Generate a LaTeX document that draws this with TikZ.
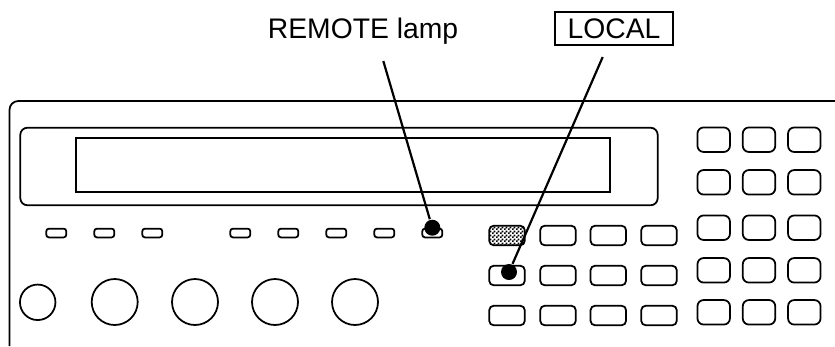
\documentclass[tikz,border=0pt]{standalone}
\usepackage{fontspec}
\setmainfont{Liberation Sans}
\usetikzlibrary{patterns}
\pgfdeclarepatternformonly{finecheck}{\pgfqpoint{0pt}{0pt}}{\pgfqpoint{2.3pt}{2.3pt}}{\pgfqpoint{2.3pt}{2.3pt}}{
    \pgfpathrectangle{\pgfqpoint{0pt}{0pt}}{\pgfqpoint{1.15pt}{1.15pt}}
    \pgfpathrectangle{\pgfqpoint{1.15pt}{1.15pt}}{\pgfqpoint{1.15pt}{1.15pt}}
    \pgfusepath{fill}}

\begin{document}
\begin{tikzpicture}[x=0.02cm, y=-0.02cm, line width=1pt,
            lamp/.style = {draw, rectangle, rounded corners=1.5pt,
                        minimum width=0.4cm, minimum height=0.175cm, inner sep=0pt},
            knob/.style = {draw, circle, minimum size=0.92cm, inner sep=0pt},
            softkey/.style = {draw, rectangle, rounded corners=2.5pt,
                        minimum width=0.71cm, minimum height=0.39cm, inner sep=0pt},
            padkey/.style = {draw, rectangle, rounded corners=3.5pt,
                        minimum width=0.65cm, minimum height=0.49cm, inner sep=0pt},
            spot/.style = {circle, fill=black, minimum size=0.32cm, inner sep=0pt},
            caption/.style = {font=\fontsize{16.1}{18}\selectfont, inner sep=0pt}]
            \useasboundingbox (0,0) rectangle (835,346);
            % Front panel
            \draw[rounded corners=5pt] (9.5,346) -- (9.5,101) -- (835,101);
            % Display
            \node[draw, rectangle, rounded corners=4pt, minimum width=12.75cm, minimum height=1.55cm,
                  inner sep=0pt] (bezel) at (339,166.5) {};
            \node[draw, rectangle, minimum width=10.68cm, minimum height=1.07cm,
                  inner sep=0pt] (screen) at (343,165) {};
            % Lamps
            \foreach \x in {56,104,152,240,288,336,384,432}
                \node[lamp] (lamp-\x) at (\x.3,233) {};
            % Knobs
            \node[knob, minimum size=0.71cm] (power) at (37.7,302.3) {};
            \foreach \x in {114.7,195,275,355}
                \node[knob] at (\x,302) {};
            % Soft keys
            \foreach \y in {235.5,275.5,315.5}
                \foreach \x in {558,608.3,659}
                    \node[softkey] at (\x,\y) {};
            \node[softkey, pattern=finecheck] (shift) at (507,235.5) {};
            \node[softkey] (local) at (507,275.5) {};
            \node[softkey] (extra) at (507,315.5) {};
            % Numeric pad
            \foreach \y in {139.7,182.3,227.7,270.3,312.3}
                \foreach \x in {713.7,759,804.3}
                    \node[padkey] at (\x,\y) {};
            % Labels
            \node[caption, anchor=base] (remotetext) at (363,38) {REMOTE lamp};
            \node[caption, draw, minimum width=2.37cm, minimum height=0.66cm] (localtext) at (614,28.5) {LOCAL};
            % Leaders
            \node[spot] (remotespot) at (432.3,227.7) {};
            \node[spot] (localspot) at (509,272) {};
            \coordinate (remotefoot) at (383.3,61);
            \coordinate (localfoot) at (602.7,57);
            \draw[line width=1.25pt] (remotefoot) -- (remotespot);
            \draw[line width=1.25pt] (localfoot) -- (localspot);
        \end{tikzpicture}
\end{document}
